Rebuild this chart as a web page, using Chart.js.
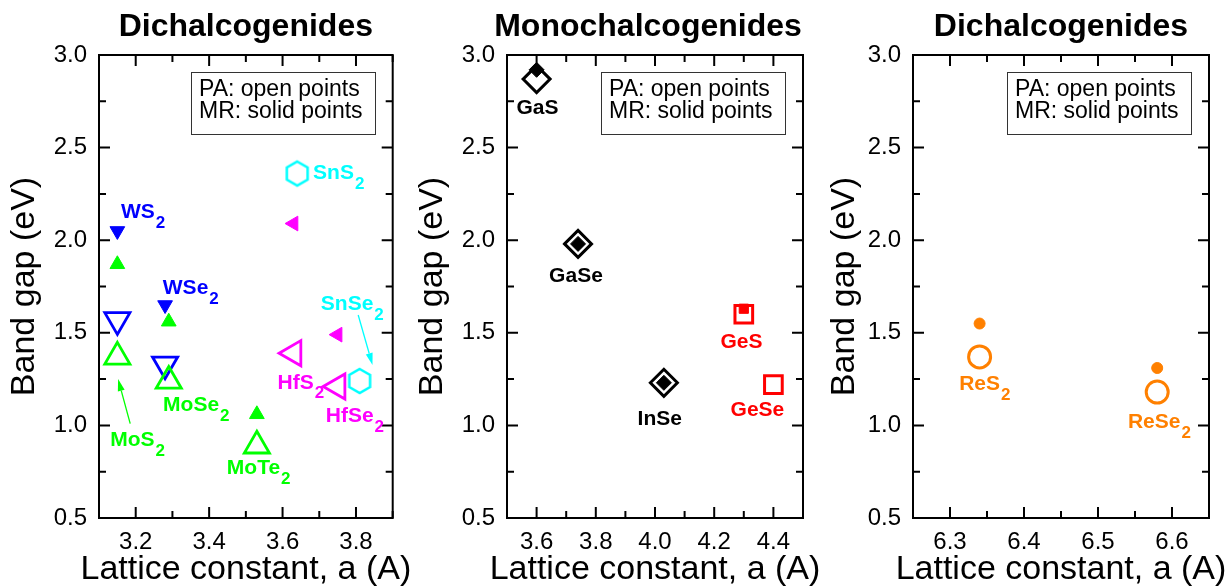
<!DOCTYPE html>
<html>
<head>
<meta charset="utf-8">
<title>Band gap vs lattice constant</title>
<script src="https://cdn.jsdelivr.net/npm/chart.js@4.4.0/dist/chart.umd.min.js"></script>
<style>
  body { margin: 0; background: #fff; overflow: hidden; }
  .panel { position: absolute; top: 0; }
</style>
</head>
<body>
<div class="panel" style="left:0px"><canvas id="tmdChart" width="410" height="587"></canvas></div>
<div class="panel" style="left:410px"><canvas id="monoChart" width="410" height="587"></canvas></div>
<div class="panel" style="left:820px"><canvas id="reChart" width="411" height="587"></canvas></div>
<script>
// transition-metal dichalcogenides (Mo, W, Hf, Sn)
const tmdNames = ['MoS2', 'MoSe2', 'MoTe2', 'WS2', 'WSe2', 'HfS2', 'HfSe2', 'SnS2', 'SnSe2'];
const tmdLattice = [3.15, 3.29, 3.53, 3.15, 3.28, 3.63, 3.75, 3.64, 3.81];
const tmdGapPA = [1.37, 1.24, 0.89, 1.57, 1.33, 1.39, 1.21, 2.36, 1.24];
const tmdGapMR = [1.87, 1.56, 1.06, 2.05, 1.65, 2.09, 1.49, null, null];

// monochalcogenides
const monoNames = ['GaS', 'GaSe', 'InSe', 'GeS', 'GeSe'];
const monoLattice = [3.60, 3.74, 4.03, 4.30, 4.40];
const monoGapPA = [2.87, 1.98, 1.23, 1.60, 1.22];
const monoGapMR = [2.92, 1.98, 1.23, 1.63, null];

// rhenium dichalcogenides
const reNames = ['ReS2', 'ReSe2'];
const reLattice = [6.34, 6.58];
const reGapPA = [1.37, 1.18];
const reGapMR = [1.55, 1.31];

// tick labels
const gapLabels = ['0.5', '1.0', '1.5', '2.0', '2.5', '3.0'];
const tmdXLabels = ['3.2', '3.4', '3.6', '3.8'];
const monoXLabels = ['3.6', '3.8', '4.0', '4.2', '4.4'];
const reXLabels = ['6.3', '6.4', '6.5', '6.6'];

const FONT = '"Liberation Sans", Arial, sans-serif';
Chart.defaults.font.family = FONT;
Chart.defaults.color = '#000';

const BLUE = '#0000ff', GREEN = '#00ff00', MAGENTA = '#ff00ff', CYAN = '#00ffff';
const RED = '#ff0000', ORANGE = '#ff8000', BLACK = '#000000';

function hexagonMarker(color) {
  const c = document.createElement('canvas');
  c.width = 32; c.height = 32;
  const g = c.getContext('2d');
  g.strokeStyle = color;
  g.lineWidth = 2.5;
  g.beginPath();
  for (let k = 0; k < 6; k++) {
    const ang = Math.PI / 3 * k - Math.PI / 2;
    const px = 16 + 12 * Math.cos(ang), py = 16 + 12 * Math.sin(ang);
    if (k) g.lineTo(px, py); else g.moveTo(px, py);
  }
  g.closePath();
  g.stroke();
  return c;
}

// marker per metal
const family = {
  Mo: { color: GREEN, style: 'triangle', rotation: 0 },
  W: { color: BLUE, style: 'triangle', rotation: 180 },
  Hf: { color: MAGENTA, style: 'triangle', rotation: -90 },
  Sn: { color: CYAN, style: hexagonMarker(CYAN), rotation: 0 },
  Ga: { color: BLACK, style: 'rectRot', rotation: 0 },
  In: { color: BLACK, style: 'rectRot', rotation: 0 },
  Ge: { color: RED, style: 'rect', rotation: 0 },
  Re: { color: ORANGE, style: 'circle', rotation: 0 }
};
const openSize = { triangle: [14.5, 2.8], rectRot: [13.5, 3], rect: [12.5, 3], circle: [11, 3] };
const solidSize = { triangle: 8.5, rectRot: 7.5, rect: 6.5, circle: 5.5 };

function buildDatasets(names, lattice, gapPA, gapMR) {
  const sets = [];
  names.forEach((name, i) => {
    const f = family[name.match(/^[A-Z][a-z]?/)[0]];
    const key = typeof f.style === 'string' ? f.style : 'triangle';
    const [r, bw] = openSize[key];
    sets.push({
      label: name + ' PA',
      data: [{ x: lattice[i], y: gapPA[i] }],
      pointStyle: f.style,
      pointRotation: f.rotation,
      pointRadius: r,
      pointBorderWidth: bw,
      pointBorderColor: f.color,
      pointBackgroundColor: 'rgba(0,0,0,0)'
    });
    if (gapMR[i] != null) {
      sets.push({
        label: name + ' MR',
        data: [{ x: lattice[i], y: gapMR[i] }],
        pointStyle: f.style,
        pointRotation: f.rotation,
        pointRadius: solidSize[key],
        pointBorderWidth: 1,
        pointBorderColor: f.color,
        pointBackgroundColor: f.color
      });
    }
  });
  return sets;
}

// compound names next to the points, in axis units
const tmdTags = [
  { text: 'WS', sub: '2', at: [3.22, 2.15], color: BLUE },
  { text: 'WSe', sub: '2', at: [3.35, 1.74], color: BLUE },
  { text: 'MoS', sub: '2', at: [3.205, 0.92], color: GREEN },
  { text: 'MoSe', sub: '2', at: [3.365, 1.11], color: GREEN },
  { text: 'MoTe', sub: '2', at: [3.535, 0.77], color: GREEN },
  { text: 'HfS', sub: '2', at: [3.65, 1.23], color: MAGENTA },
  { text: 'HfSe', sub: '2', at: [3.797, 1.05], color: MAGENTA },
  { text: 'SnS', sub: '2', at: [3.753, 2.36], color: CYAN },
  { text: 'SnSe', sub: '2', at: [3.79, 1.655], color: CYAN }
];
const tmdArrows = [
  { from: [3.185, 1.01], to: [3.152, 1.25], color: GREEN },
  { from: [3.806, 1.596], to: [3.845, 1.326], color: CYAN }
];
const monoTags = [
  { text: 'GaS', at: [3.603, 2.712], color: BLACK },
  { text: 'GaSe', at: [3.733, 1.803], color: BLACK },
  { text: 'InSe', at: [4.016, 1.033], color: BLACK },
  { text: 'GeS', at: [4.292, 1.448], color: RED },
  { text: 'GeSe', at: [4.346, 1.082], color: RED }
];
const reTags = [
  { text: 'ReS', sub: '2', at: [6.347, 1.224], color: ORANGE },
  { text: 'ReSe', sub: '2', at: [6.583, 1.016], color: ORANGE }
];

function drawTag(ctx, x, y, tag) {
  const big = 'bold 21px ' + FONT, small = 'bold 17px ' + FONT;
  ctx.font = big;
  const w1 = ctx.measureText(tag.text).width;
  ctx.font = small;
  const w2 = tag.sub ? ctx.measureText(tag.sub).width + 1 : 0;
  const sx = x - (w1 + w2) / 2;
  ctx.fillStyle = tag.color;
  ctx.textAlign = 'left';
  ctx.textBaseline = 'middle';
  ctx.font = big;
  ctx.fillText(tag.text, sx, y);
  if (tag.sub) {
    ctx.font = small;
    ctx.fillText(tag.sub, sx + w1 + 1, y + 11);
  }
}

function drawArrow(ctx, x0, y0, x1, y1, color) {
  const ang = Math.atan2(y1 - y0, x1 - x0), head = 12, half = 3.5;
  const bx = x1 - head * Math.cos(ang), by = y1 - head * Math.sin(ang);
  ctx.strokeStyle = color;
  ctx.fillStyle = color;
  ctx.lineWidth = 1.3;
  ctx.beginPath();
  ctx.moveTo(x0, y0);
  ctx.lineTo(bx, by);
  ctx.stroke();
  ctx.beginPath();
  ctx.moveTo(x1, y1);
  ctx.lineTo(bx + half * Math.sin(ang), by - half * Math.cos(ang));
  ctx.lineTo(bx - half * Math.sin(ang), by + half * Math.cos(ang));
  ctx.closePath();
  ctx.fill();
}

// box frame with inward ticks, heading, x caption, note box and labels
const panelDecor = {
  id: 'panelDecor',
  afterDraw(chart, args, opts) {
    const { ctx, chartArea: a, scales: { x, y } } = chart;
    ctx.save();

    ctx.strokeStyle = '#000';
    ctx.lineWidth = 2;
    ctx.beginPath();
    x.ticks.forEach(t => {
      const px = x.getPixelForValue(t.value);
      const len = t.label ? 11 : 7;
      ctx.moveTo(px, a.bottom); ctx.lineTo(px, a.bottom - len);
      ctx.moveTo(px, a.top); ctx.lineTo(px, a.top + len);
    });
    y.ticks.forEach(t => {
      const py = y.getPixelForValue(t.value);
      const len = t.label ? 11 : 7;
      ctx.moveTo(a.left, py); ctx.lineTo(a.left + len, py);
      ctx.moveTo(a.right, py); ctx.lineTo(a.right - len, py);
    });
    ctx.stroke();
    ctx.strokeRect(a.left, a.top, a.width, a.height);

    // note box
    const bw = 184, bh = 62, bl = Math.round(a.right - 18 - bw), bt = Math.round(a.top + 17);
    ctx.lineWidth = 1;
    ctx.strokeStyle = '#333';
    ctx.strokeRect(bl + 0.5, bt + 0.5, bw, bh);
    ctx.fillStyle = '#000';
    ctx.font = '23px ' + FONT;
    ctx.textAlign = 'left';
    ctx.textBaseline = 'middle';
    ctx.fillText('PA: open points', bl + 8, bt + 18);
    ctx.fillText('MR: solid points', bl + 8, bt + 40);

    // heading and x caption
    const cx = (a.left + a.right) / 2;
    ctx.textAlign = 'center';
    ctx.font = 'bold 32px ' + FONT;
    ctx.fillText(opts.heading, cx + (opts.headingShift || 0), 27);
    ctx.font = '34px ' + FONT;
    ctx.fillText('Lattice constant, a (A)', cx, chart.height - 17);

    (opts.arrows || []).forEach(ar => {
      drawArrow(ctx, x.getPixelForValue(ar.from[0]), y.getPixelForValue(ar.from[1]),
        x.getPixelForValue(ar.to[0]), y.getPixelForValue(ar.to[1]), ar.color);
    });
    (opts.tags || []).forEach(tag => {
      drawTag(ctx, x.getPixelForValue(tag.at[0]), y.getPixelForValue(tag.at[1]), tag);
    });
    ctx.restore();
  }
};

function pickLabel(labels) {
  return v => {
    const s = v.toFixed(1);
    return labels.includes(s) && Math.abs(v - parseFloat(s)) < 1e-6 ? s : '';
  };
}

function makePanel(id, cfg) {
  return new Chart(document.getElementById(id), {
    type: 'scatter',
    data: { datasets: cfg.datasets },
    options: {
      responsive: false,
      animation: false,
      clip: false,
      layout: { padding: { top: 55, right: cfg.padRight, left: 0, bottom: 0 } },
      plugins: {
        legend: { display: false },
        tooltip: { enabled: false },
        panelDecor: { heading: cfg.heading, headingShift: cfg.headingShift, tags: cfg.tags, arrows: cfg.arrows }
      },
      scales: {
        x: {
          type: 'linear',
          min: cfg.xRange[0],
          max: cfg.xRange[1],
          grid: { display: false, drawTicks: false },
          border: { display: false },
          ticks: {
            stepSize: cfg.xStep,
            autoSkip: false,
            maxRotation: 0,
            padding: 10,
            font: { size: 24 },
            color: '#000',
            callback: pickLabel(cfg.xLabels)
          },
          afterFit: s => { s.height = 69; }
        },
        y: {
          type: 'linear',
          min: 0.5,
          max: 3.0,
          grid: { display: false, drawTicks: false },
          border: { display: false },
          ticks: {
            stepSize: 0.25,
            autoSkip: false,
            padding: 12,
            font: { size: 24 },
            color: '#000',
            callback: pickLabel(gapLabels)
          },
          title: {
            display: true,
            text: 'Band gap (eV)',
            color: '#000',
            font: { size: 34, lineHeight: 1 },
            padding: { top: cfg.yTitlePad, bottom: 0 }
          },
          afterFit: s => { s.width = cfg.yWidth; }
        }
      }
    },
    plugins: [panelDecor]
  });
}

makePanel('tmdChart', {
  heading: 'Dichalcogenides',
  datasets: buildDatasets(tmdNames, tmdLattice, tmdGapPA, tmdGapMR),
  xRange: [3.1, 3.9], xStep: 0.1, xLabels: tmdXLabels,
  yWidth: 99, padRight: 14, yTitlePad: 8,
  tags: tmdTags, arrows: tmdArrows
});

makePanel('monoChart', {
  heading: 'Monochalcogenides',
  headingShift: -7,
  datasets: buildDatasets(monoNames, monoLattice, monoGapPA, monoGapMR),
  xRange: [3.5, 4.5], xStep: 0.1, xLabels: monoXLabels,
  yWidth: 97, padRight: 17, yTitlePad: 5.5,
  tags: monoTags
});

makePanel('reChart', {
  heading: 'Dichalcogenides',
  datasets: buildDatasets(reNames, reLattice, reGapPA, reGapMR),
  xRange: [6.25, 6.65], xStep: 0.05, xLabels: reXLabels,
  yWidth: 93, padRight: 22, yTitlePad: 7.5,
  tags: reTags
});
</script>
</body>
</html>
